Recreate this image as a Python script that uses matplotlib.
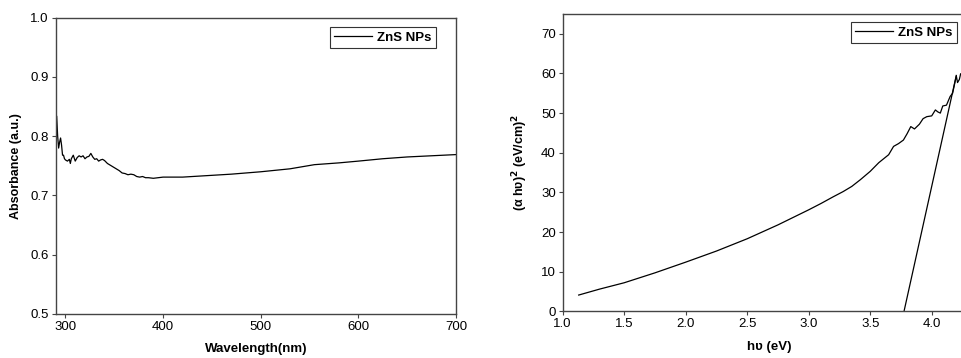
import matplotlib
matplotlib.use("Agg")
import matplotlib.pyplot as plt
import numpy as np

plt.rcParams['font.family'] = ['Liberation Sans', 'DejaVu Sans']

# Left panel: absorbance spectrum
wavelength = [290, 291, 292, 293, 294, 295, 296, 297, 298, 299, 300, 302, 304, 305, 306, 308, 310, 312, 314,
              316, 318, 320, 322, 324, 326, 328, 330, 332, 334, 336, 338, 340, 343, 346, 349, 352, 355,
              358, 361, 364, 367, 370, 373, 376, 379, 382, 385, 390, 395, 400, 410, 420, 440, 470,
              500, 530, 555, 580, 600, 625, 650, 675, 700]
absorbance = [0.765, 0.834, 0.800, 0.780, 0.790, 0.797, 0.785, 0.768, 0.768, 0.762, 0.760, 0.758, 0.761, 0.754, 0.762,
              0.768, 0.758, 0.764, 0.767, 0.765, 0.767, 0.762, 0.765, 0.766, 0.771, 0.765, 0.761, 0.762,
              0.758, 0.760, 0.761, 0.759, 0.754, 0.751, 0.748, 0.745, 0.742, 0.738, 0.737, 0.735,
              0.736, 0.735, 0.732, 0.731, 0.732, 0.730, 0.730, 0.729, 0.730, 0.731, 0.731, 0.731,
              0.733, 0.736, 0.740, 0.745, 0.752, 0.755, 0.758, 0.762, 0.765, 0.767, 0.769]

# Right panel: Tauc plot
energy = [1.13, 1.3, 1.5, 1.75, 2.0, 2.25, 2.5, 2.75, 3.0, 3.1, 3.2, 3.28, 3.35, 3.42, 3.5, 3.57, 3.65,
          3.69, 3.73, 3.77, 3.80, 3.83, 3.86, 3.90, 3.93, 3.96, 4.0, 4.03, 4.05, 4.07, 4.09, 4.12,
          4.15, 4.17, 4.20, 4.21, 4.225, 4.235]
tauc = [4.1, 5.6, 7.2, 9.7, 12.4, 15.2, 18.3, 21.8, 25.6, 27.2, 28.9, 30.2, 31.5, 33.2, 35.3, 37.5, 39.5,
        41.6, 42.3, 43.2, 44.8, 46.6, 46.0, 47.2, 48.6, 49.1, 49.3, 50.8, 50.3, 50.0, 51.8, 52.0,
        54.2, 55.0, 59.4, 57.7, 58.5, 59.9]
tangent_x = [3.775, 4.20]
tangent_y = [0.0, 59.5]

W, H = 961, 358
fig = plt.figure(figsize=(W / 100, H / 100), dpi=100)

spine_color = '#444444'

def style(ax):
    for s in ax.spines.values():
        s.set_color(spine_color)
        s.set_linewidth(1.0)
    ax.tick_params(direction='out', length=3, width=0.8, color=spine_color,
                   labelsize=9.5, pad=2)

leg_kw = dict(prop={'weight': 'bold', 'size': 9.5}, fancybox=False, framealpha=1,
              edgecolor='#333333', handlelength=2.9, borderpad=0.35, handletextpad=0.35,
              borderaxespad=0)

# Left axes: x 55.7..456, y 17.7..314
ax1 = fig.add_axes([55.7 / W, 1 - 314 / H, (456 - 55.7) / W, (314 - 17.7) / H])
ax1.plot(wavelength, absorbance, color='black', lw=0.9, label='ZnS NPs')
ax1.set_xlim(290, 700)
ax1.set_ylim(0.5, 1.0)
ax1.set_xticks([300, 400, 500, 600, 700])
ax1.set_yticks([0.5, 0.6, 0.7, 0.8, 0.9, 1.0])
ax1.set_xlabel('Wavelength(nm)', fontsize=9.5, fontweight='bold', labelpad=7)
ax1.set_ylabel('Absorbance (a.u.)', fontsize=9, fontweight='bold', labelpad=6)
style(ax1)
leg1 = ax1.legend(loc='upper right',
                  bbox_to_anchor=((436 - 55.7) / (456 - 55.7), 1 - (27 - 17.7) / (314 - 17.7)),
                  **leg_kw)
leg1.get_frame().set_linewidth(0.8)

# Right axes: x 562.7.. beyond, y 14..311.3 ; 123 px per eV
px_per_ev = (931.7 - 562.7) / 3.0
right_px = 975
xmax = 1.0 + (right_px - 562.7) / px_per_ev
ax2 = fig.add_axes([562.7 / W, 1 - 311.3 / H, (right_px - 562.7) / W, (311.3 - 14) / H])
ax2.plot(energy, tauc, color='black', lw=0.9, label='ZnS NPs')
ax2.plot(tangent_x, tangent_y, color='black', lw=0.9)
ax2.set_xlim(1.0, xmax)
ax2.set_ylim(0, 75)
ax2.set_xticks([1.0, 1.5, 2.0, 2.5, 3.0, 3.5, 4.0])
ax2.set_yticks([0, 10, 20, 30, 40, 50, 60, 70])
ax2.set_xlabel('hʋ (eV)', fontsize=9.5, fontweight='bold', labelpad=8)
ax2.set_ylabel('(α hʋ)$^\\mathbf{2}$ (eV/cm)$^\\mathbf{2}$', fontsize=9, fontweight='bold', labelpad=8)
style(ax2)
ax2.spines['right'].set_visible(False)
leg2 = ax2.legend(loc='upper right',
                  bbox_to_anchor=((957 - 562.7) / (right_px - 562.7), 1 - (22 - 14) / (311.3 - 14)),
                  **leg_kw)
leg2.get_frame().set_linewidth(0.8)

fig.savefig('out.png', dpi=100)
